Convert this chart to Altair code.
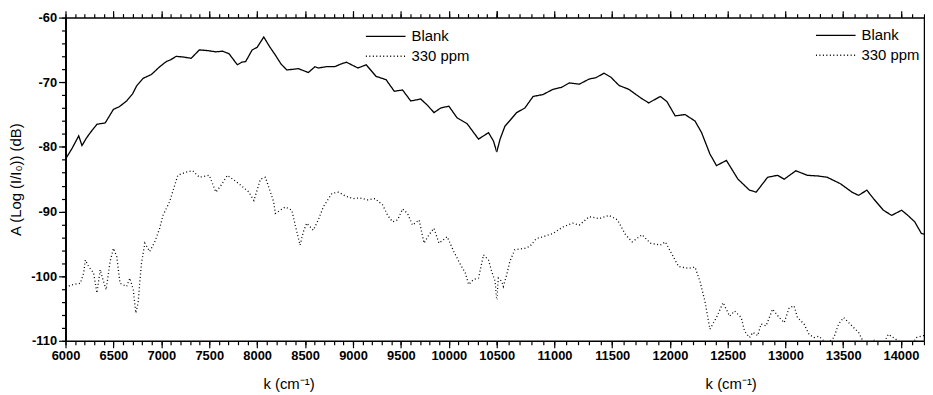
import altair as alt
import pandas as pd

# ---------------- data ----------------
series_names = ["Blank", "330 ppm"]

blank_k = [6000, 6070, 6138, 6172, 6220, 6259, 6328, 6414, 6500, 6560, 6638, 6700, 6741, 6810,
           6897, 6940, 6983, 7052, 7100, 7155, 7230, 7311, 7397, 7480, 7569, 7640, 7707, 7793,
           7840, 7880, 7948, 8000, 8069, 8130, 8190, 8250, 8310, 8431, 8534, 8603, 8638, 8720,
           8810, 8870, 8931, 9052, 9138, 9241, 9345, 9431, 9517, 9603, 9707, 9780, 9845, 9914,
           10000, 10086, 10190, 10250, 10310, 10414, 10466, 10500, 10529, 10571, 10620, 10672,
           10743, 10815, 10901, 10987, 11060, 11129, 11215, 11301, 11358, 11430, 11487, 11559,
           11644, 11745, 11816, 11917, 11974, 12045, 12131, 12217, 12274, 12346, 12403, 12489,
           12589, 12689, 12747, 12846, 12932, 12989, 13090, 13190, 13280, 13361, 13476, 13576,
           13633, 13705, 13762, 13848, 13920, 14006, 14060, 14120, 14177, 14200]
blank_a = [-81.9, -80.2, -78.3, -79.8, -78.6, -77.8, -76.5, -76.3, -74.2, -73.8, -72.9, -71.8,
           -70.6, -69.4, -68.8, -68.2, -67.6, -66.8, -66.5, -66.0, -66.1, -66.3, -65.0, -65.1,
           -65.3, -65.2, -65.6, -67.3, -66.9, -66.8, -65.0, -64.6, -63.0, -64.5, -65.8, -67.2,
           -68.1, -67.9, -68.5, -67.6, -67.8, -67.6, -67.6, -67.2, -66.9, -67.8, -67.3, -69.1,
           -69.6, -71.4, -71.2, -72.9, -72.6, -73.6, -74.7, -74.0, -73.7, -75.5, -76.4, -77.6,
           -78.8, -77.8, -79.1, -80.8, -78.8, -76.8, -75.8, -74.7, -74.0, -72.2, -71.9, -71.1,
           -70.8, -70.1, -70.3, -69.5, -69.3, -68.6, -69.2, -70.5, -71.1, -72.4, -73.2, -72.2,
           -73.0, -75.2, -75.0, -76.0, -77.8, -81.1, -82.9, -82.1, -85.0, -86.7, -87.0, -84.7,
           -84.4, -85.0, -83.7, -84.4, -84.5, -84.7, -85.7, -87.0, -87.5, -86.7, -88.0, -89.8,
           -90.6, -89.8, -90.6, -91.6, -93.4, -93.5]

ppm_k = [6000, 6080, 6155, 6190, 6207, 6241, 6293, 6328, 6362, 6396, 6424, 6466, 6500, 6535,
         6569, 6638, 6672, 6707, 6734, 6758, 6776, 6793, 6828, 6879, 6931, 6983, 7017, 7086,
         7172, 7259, 7328, 7397, 7500, 7569, 7621, 7690, 7810, 7914, 7966, 8034, 8086, 8138,
         8172, 8190, 8293, 8362, 8397, 8448, 8483, 8517, 8586, 8638, 8690, 8724, 8780, 8850,
         8920, 9000, 9070, 9150, 9230, 9310, 9362, 9414, 9466, 9517, 9569, 9621, 9690, 9741,
         9793, 9845, 9897, 9983, 10052, 10121, 10172, 10207, 10259, 10310, 10362, 10414, 10448,
         10483, 10500, 10514, 10543, 10557, 10586, 10614, 10657, 10743, 10786, 10843, 10901,
         10987, 11072, 11158, 11215, 11301, 11387, 11473, 11545, 11616, 11673, 11759, 11831,
         11917, 11960, 12074, 12160, 12217, 12260, 12303, 12346, 12403, 12460, 12517, 12560,
         12617, 12646, 12689, 12718, 12760, 12789, 12832, 12889, 12946, 12989, 13032, 13075,
         13104, 13161, 13204, 13247, 13290, 13361, 13419, 13461, 13504, 13576, 13633, 13676,
         13720, 13762, 13800, 13850, 13891, 13934, 14000, 14060, 14100, 14134, 14191, 14200]
ppm_a = [-101.7, -101.3, -101.1, -99.5, -97.5, -98.5, -99.5, -102.6, -99.0, -100.8, -102.1,
         -97.7, -95.7, -97.0, -101.1, -101.6, -100.3, -102.1, -105.7, -104.1, -100.8, -98.0,
         -94.9, -96.2, -94.7, -92.6, -90.6, -88.5, -84.4, -83.9, -83.7, -84.7, -84.4, -87.0,
         -86.0, -84.4, -85.7, -87.0, -88.3, -85.0, -84.7, -87.0, -88.5, -90.3, -89.3, -89.8,
         -92.1, -95.2, -93.1, -91.8, -92.9, -91.3, -89.3, -88.5, -87.2, -87.0, -87.6, -88.0,
         -87.9, -88.2, -88.0, -89.0, -90.6, -91.6, -91.3, -89.6, -90.3, -92.1, -91.3, -94.9,
         -93.6, -92.6, -94.9, -93.9, -96.2, -98.2, -99.5, -101.3, -100.5, -100.3, -96.7, -97.5,
         -99.3, -100.8, -103.6, -100.3, -100.8, -101.6, -99.8, -97.7, -95.9, -95.7, -95.4,
         -94.2, -93.9, -93.4, -92.4, -91.8, -92.1, -90.8, -91.1, -90.6, -91.3, -93.6, -94.7,
         -93.6, -94.9, -95.2, -94.7, -98.5, -98.8, -98.6, -100.8, -103.9, -108.2, -106.4,
         -104.1, -106.2, -105.4, -106.4, -108.5, -109.5, -108.7, -109.2, -107.4, -107.7,
         -105.1, -106.4, -107.2, -104.9, -104.6, -106.4, -107.4, -109.0, -109.5, -109.3,
         -110.5, -109.5, -107.4, -106.4, -107.7, -108.7, -110.2, -111.0, -109.8, -110.6,
         -110.4, -109.0, -109.5, -110.3, -111.0, -110.5, -109.5, -109.2, -109.2]

x_title = "k (cm\u207b\u00b9)"
y_title = "A (Log (I/I\u2080)) (dB)"

left_domain = [6000, 10500]
right_domain = [10500, 14200]
left_major = list(range(6000, 10501, 500))
right_major = list(range(11000, 14001, 500))
left_minor = list(range(6000, 10501, 100))
right_minor = list(range(10500, 14201, 100))
y_domain = [-110, -60]
y_major = list(range(-110, -59, 10))
y_minor = list(range(-110, -59, 2))

df = pd.concat(
    [
        pd.DataFrame({"k": blank_k, "A": blank_a, "series": series_names[0]}),
        pd.DataFrame({"k": ppm_k, "A": ppm_a, "series": series_names[1]}),
    ],
    ignore_index=True,
)

FONT = "Liberation Sans"


def panel(domain, width, major, minor, is_left, legend_x, legend_y, title_x):
    xs = alt.Scale(domain=domain, nice=False, zero=False)
    ys = alt.Scale(domain=y_domain, nice=False, zero=False)
    base = alt.Chart(df).transform_filter(
        (alt.datum.k >= domain[0]) & (alt.datum.k <= domain[1])
    )

    x_main = alt.X("k:Q", scale=xs, axis=alt.Axis(
        orient="bottom", values=major, format="d", title=x_title, tickSize=7,
        labelPadding=2, titleX=title_x, titlePadding=14, domainWidth=1.5))
    if is_left:
        y_main = alt.Y("A:Q", scale=ys, axis=alt.Axis(
            orient="left", values=y_major, tickSize=7, labelPadding=2,
            labelExpr="datum.value < 0 ? '-' + format(-datum.value, 'd') : format(datum.value, 'd')",
            title=y_title, titlePadding=7, domainWidth=2))
    else:
        y_main = alt.Y("A:Q", scale=ys, axis=alt.Axis(
            orient="right", values=y_major, ticks=False, labels=False, title=None,
            domainWidth=1.5))

    main = base.mark_line(clip=True, color="black", strokeWidth=1.3).encode(
        x=x_main,
        y=y_main,
        strokeDash=alt.StrokeDash(
            "series:N",
            scale=alt.Scale(domain=series_names, range=[[1, 0], [1, 2.5]]),
            legend=alt.Legend(
                title=None, orient="none", legendX=legend_x, legendY=legend_y,
                symbolType="stroke", symbolSize=1600, symbolStrokeWidth=1.3,
                symbolStrokeColor="black", labelFontSize=15, labelFont=FONT,
                labelColor="black", labelOffset=5, clipHeight=20, rowPadding=0,
                padding=0, direction="vertical"),
        ),
    )

    minor_layer = base.mark_point(opacity=0, size=0, clip=True).encode(
        x=alt.X("k:Q", scale=xs, axis=alt.Axis(
            orient="bottom", values=minor, tickSize=4, labels=False, domain=False,
            title=None)),
        y=alt.Y("A:Q", scale=ys, axis=alt.Axis(
            orient="left", values=y_minor, tickSize=4, labels=False, domain=False,
            title=None) if is_left else None),
    )
    top_major = base.mark_point(opacity=0, size=0, clip=True).encode(
        x=alt.X("k:Q", scale=xs, axis=alt.Axis(
            orient="top", values=major if is_left else [10500] + major, tickSize=7,
            labels=False, domainWidth=1.5, title=None)),
        y=alt.Y("A:Q", scale=ys, axis=None),
    )
    top_minor = base.mark_point(opacity=0, size=0, clip=True).encode(
        x=alt.X("k:Q", scale=xs, axis=alt.Axis(
            orient="top", values=minor, tickSize=4, labels=False, domain=False,
            title=None)),
        y=alt.Y("A:Q", scale=ys, axis=None),
    )
    return (
        alt.layer(main, minor_layer, top_major, top_minor)
        .resolve_axis(x="independent", y="independent")
        .properties(width=width, height=326)
    )


left = panel(left_domain, 435, left_major, left_minor, True, 302, 9, 225)
right = panel(right_domain, 431, right_major, right_minor, False, 321, 8, 236)

chart = (
    alt.hconcat(left, right, spacing=0, bounds="flush")
    .resolve_scale(x="independent", y="independent", strokeDash="independent")
    .resolve_legend(strokeDash="independent")
    .properties(padding=0, background="white")
    .configure_view(stroke=None)
    .configure_axis(
        grid=False, labelFont=FONT, labelFontSize=13, labelFontWeight="bold",
        labelColor="black", tickColor="black", domainColor="black",
        titleFont=FONT, titleFontSize=15, titleFontWeight="normal", titleColor="black",
        labelFlush=False, labelOverlap=False, tickWidth=1.2,
    )
)

chart.save("out.html", embed_options={"renderer": "svg", "actions": False})
